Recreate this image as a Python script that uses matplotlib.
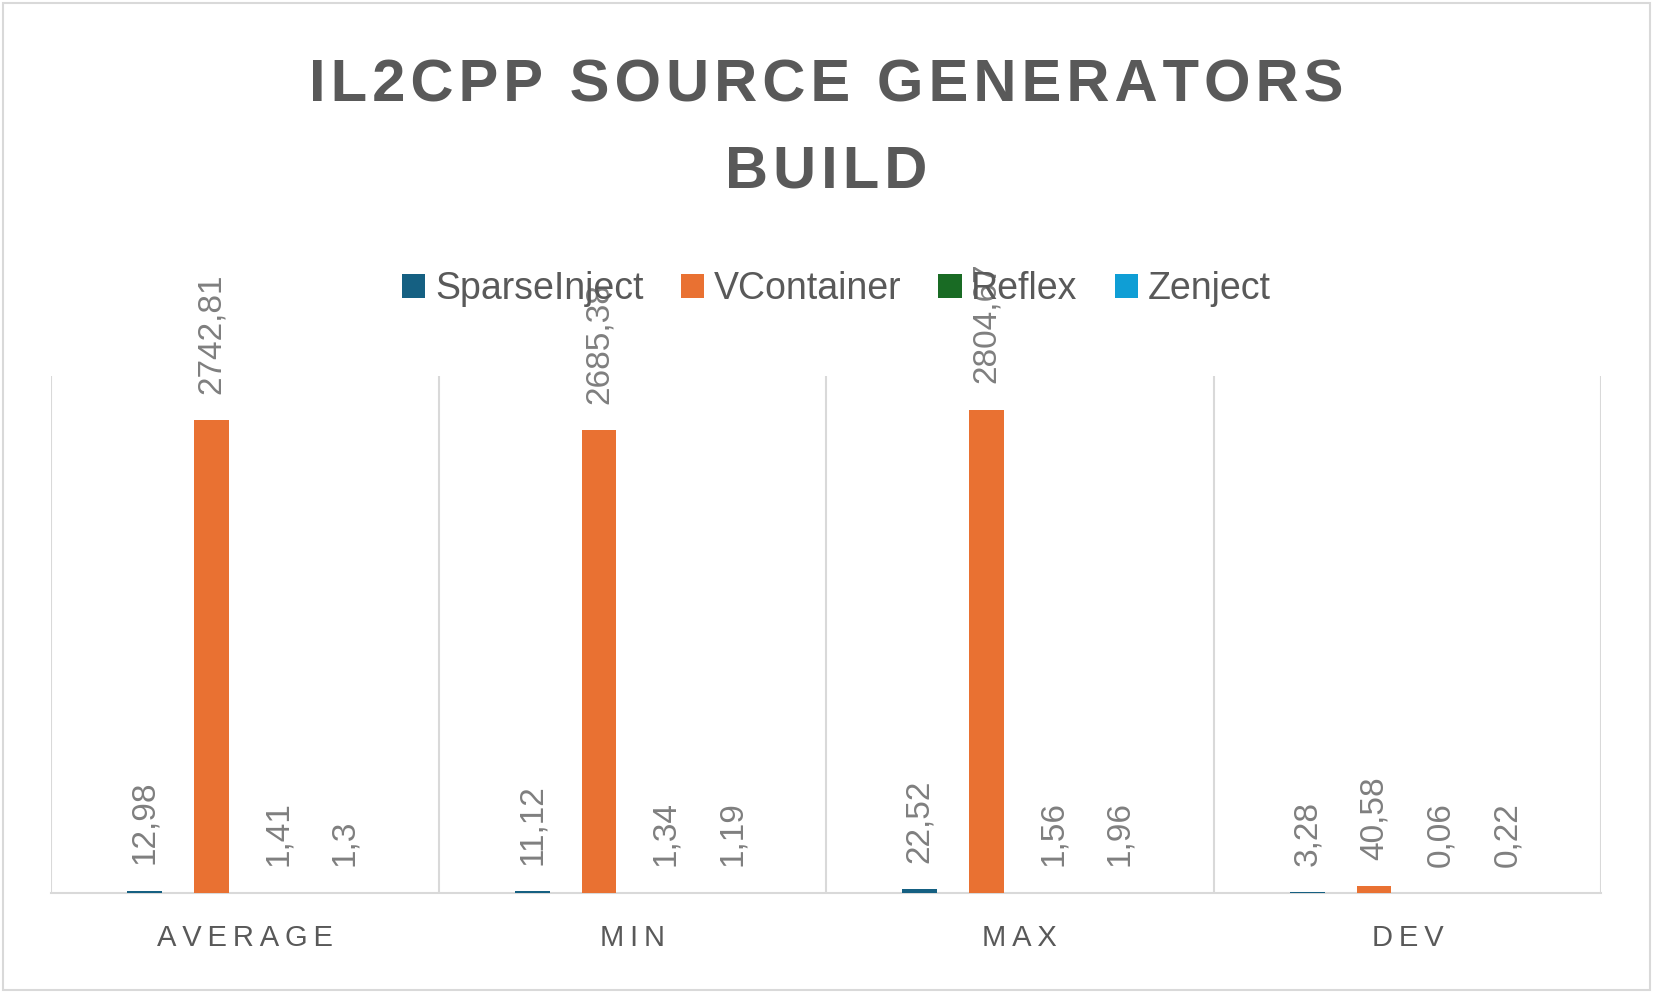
import matplotlib
matplotlib.use("Agg")
import matplotlib.pyplot as plt
import numpy as np
from matplotlib.patches import Rectangle, Patch

# data
categories = ['AVERAGE', 'MIN', 'MAX', 'DEV']
series_names = ['SparseInject', 'VContainer', 'Reflex', 'Zenject']
sparse_inject = [12.98, 11.12, 22.52, 3.28]
vcontainer = [2742.81, 2685.38, 2804.67, 40.58]
reflex = [1.41, 1.34, 1.56, 0.06]
zenject = [1.3, 1.19, 1.96, 0.22]
colors = ['#156082', '#E97132', '#196B24', '#0F9ED5']

title_txt = 'IL2CPP SOURCE GENERATORS\nBUILD'

TXT = '#595959'
LBL = '#7f7f7f'
GRID = '#d9d9d9'
FAM = ['Liberation Sans', 'DejaVu Sans']


def spaced(s, sp='\u200a'):
    # fake letter spacing
    return '\n'.join(sp.join(line) for line in s.split('\n'))


def fmt(v):
    return ('%g' % v).replace('.', ',')


fig = plt.figure(figsize=(16.53, 9.93), dpi=100)
fig.patch.set_facecolor('white')
fig.add_artist(Rectangle((0.002, 0.003), 0.996, 0.994, transform=fig.transFigure,
                         fill=False, edgecolor=GRID, linewidth=1.5))

ax = fig.add_axes([0.0309, 0.1007, 0.9377, 0.5206])

all_series = [sparse_inject, vcontainer, reflex, zenject]
x = np.arange(len(categories))
step = 0.172
width = 0.09

for i, vals in enumerate(all_series):
    pos = x + (i - 1.5) * step
    bars = ax.bar(pos, vals, width=width, color=colors[i], zorder=3)
    for b, v in zip(bars, vals):
        ax.annotate(fmt(v), (b.get_x() + b.get_width() / 2, b.get_height()),
                    xytext=(0, 19), textcoords='offset points', rotation=90,
                    ha='center', va='bottom', fontsize=24, color=LBL,
                    family=FAM, zorder=5, annotation_clip=False)

ax.set_xlim(-0.5, len(categories) - 0.5)
ax.set_ylim(0, 3000)
for xv in np.arange(-0.5, len(categories), 1.0):
    ax.axvline(xv, color=GRID, linewidth=1.5, zorder=1)

for s in ['top', 'left', 'right']:
    ax.spines[s].set_visible(False)
ax.spines['bottom'].set_color(GRID)
ax.spines['bottom'].set_linewidth(1.5)
ax.set_yticks([])
ax.set_xticks(x)
ax.set_xticklabels([spaced(c, '\u2009') for c in categories], fontsize=21, color=TXT,
                   family=FAM)
ax.tick_params(axis='x', length=0, pad=22)

fig.text(0.5, 0.870, spaced(title_txt, '\u200a'), ha='center', va='center',
         fontsize=43, fontweight='bold', color=TXT, linespacing=1.72, family=FAM)

handles = [Patch(facecolor=c) for c in colors]
fig.legend(handles, series_names, loc='center', bbox_to_anchor=(0.506, 0.709),
           ncol=4, frameon=False, labelcolor=TXT,
           handlelength=0.62, handleheight=0.62, handletextpad=0.25, columnspacing=1.0,
           prop={'family': FAM, 'size': 27})

fig.savefig('out.png', dpi=100)
